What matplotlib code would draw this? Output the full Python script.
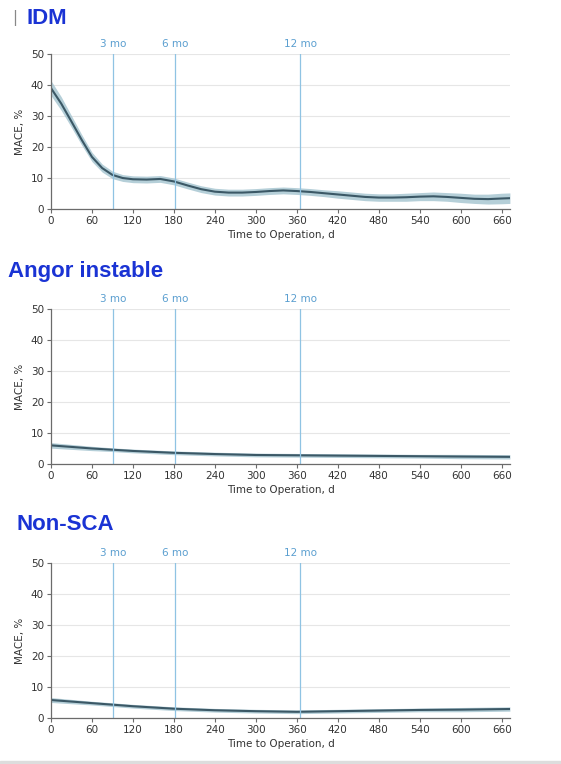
import numpy as np
import matplotlib

matplotlib.use("Agg")
import matplotlib.pyplot as plt
from matplotlib.patches import Rectangle

# ---- data (days, MACE %) ----
days_idm = [0, 15, 30, 45, 60, 75, 90, 105, 120, 140, 160, 180, 200, 220, 240,
            260, 280, 300, 320, 340, 360, 380, 400, 420, 440, 460, 480, 500,
            520, 540, 560, 580, 600, 620, 640, 660, 672]
mace_idm = [39.0, 34.0, 28.2, 22.3, 16.8, 13.2, 11.0, 10.0, 9.6, 9.5, 9.7, 8.9,
            7.6, 6.4, 5.6, 5.3, 5.3, 5.5, 5.8, 6.0, 5.8, 5.5, 5.1, 4.7, 4.3,
            3.9, 3.7, 3.7, 3.8, 4.0, 4.1, 3.9, 3.6, 3.3, 3.2, 3.4, 3.5]
band_idm = [2.4, 2.2, 1.9, 1.7, 1.5, 1.3, 1.2, 1.1, 1.1, 1.1, 1.1, 1.1, 1.1,
            1.1, 1.1, 1.1, 1.1, 1.1, 1.1, 1.1, 1.1, 1.1, 1.1, 1.2, 1.2, 1.2,
            1.2, 1.2, 1.3, 1.3, 1.4, 1.4, 1.5, 1.5, 1.6, 1.7, 1.7]

days_flat = [0, 30, 60, 90, 120, 150, 180, 240, 300, 360, 420, 480, 540, 600, 672]
mace_angor = [6.0, 5.5, 5.0, 4.6, 4.2, 3.9, 3.6, 3.2, 2.9, 2.8, 2.7, 2.6, 2.5, 2.4, 2.3]
band_angor = [0.9, 0.8, 0.7, 0.6, 0.6, 0.6, 0.6, 0.6, 0.6, 0.6, 0.6, 0.6, 0.6, 0.7, 0.7]
mace_nonsca = [5.8, 5.3, 4.8, 4.3, 3.8, 3.4, 3.0, 2.5, 2.2, 2.0, 2.2, 2.4, 2.6, 2.7, 2.9]
band_nonsca = [0.8, 0.7, 0.6, 0.6, 0.6, 0.6, 0.6, 0.6, 0.6, 0.6, 0.6, 0.6, 0.6, 0.7, 0.7]

titles = ["IDM", "Angor instable", "Non-SCA"]
marker_days = [91, 182, 365]
marker_labels = ["3 mo", "6 mo", "12 mo"]
x_ticks = list(range(0, 661, 60))
y_ticks = [0, 10, 20, 30, 40, 50]

FONT = ["Liberation Sans Narrow", "DejaVu Sans"]
TITLE_BLUE = "#1a33d4"
LINE = "#3b5866"
BAND = "#a3c3cf"
MARK = "#8fc3e3"
MARK_TXT = "#5b9fd0"
AX_GRAY = "#6b6b6b"

panels = [
    (days_idm, mace_idm, band_idm),
    (days_flat, mace_angor, band_angor),
    (days_flat, mace_nonsca, band_nonsca),
]
# axes rectangles [left, bottom, width, height] in figure fraction
rects = [
    [0.0909, 0.7264, 0.818, 0.2029],
    [0.0909, 0.3927, 0.818, 0.2029],
    [0.0909, 0.0602, 0.818, 0.2029],
]
title_pos = [(0.048, 0.976), (0.014, 0.645), (0.030, 0.314)]

fig = plt.figure(figsize=(5.61, 7.64), dpi=100)

for i, ((d, m, b), rect) in enumerate(zip(panels, rects)):
    ax = fig.add_axes(rect)
    d = np.array(d)
    m = np.array(m)
    b = np.array(b)
    ax.fill_between(d, m - b, m + b, color=BAND, alpha=0.8, lw=0)
    ax.plot(d, m, color=LINE, lw=1.5)
    for md, ml in zip(marker_days, marker_labels):
        ax.axvline(md, color=MARK, lw=0.9)
        ax.text(md, 51.5, ml, color=MARK_TXT, ha="center", va="bottom",
                fontsize=7.5, family=FONT)
    ax.set_xlim(0, 672)
    ax.set_ylim(0, 50)
    ax.set_xticks(x_ticks)
    ax.set_yticks(y_ticks)
    ax.grid(axis="y", color="#e6e6e6", lw=0.8)
    ax.set_axisbelow(True)
    for s in ["top", "right"]:
        ax.spines[s].set_visible(False)
    for s in ["left", "bottom"]:
        ax.spines[s].set_color(AX_GRAY)
        ax.spines[s].set_linewidth(0.9)
    ax.tick_params(colors=AX_GRAY, labelcolor="#333333", labelsize=7.5,
                   length=3, width=0.8, pad=2)
    for lab in ax.get_xticklabels() + ax.get_yticklabels():
        lab.set_family(FONT)
    ax.set_ylabel("MACE, %", fontsize=7.5, family=FONT, color="#333333", labelpad=4)
    ax.set_xlabel("Time to Operation, d", fontsize=7.5, family=FONT,
                  color="#333333", labelpad=3)

    tx, ty = title_pos[i]
    fig.text(tx, ty, titles[i], color=TITLE_BLUE, fontsize=16, fontweight="bold",
             family=["Liberation Sans", "DejaVu Sans"], va="center", ha="left")

fig.text(0.022, 0.976, "|", color="#888888", fontsize=11, va="center", ha="left")
fig.patches.append(Rectangle((0, 0), 1, 0.004, transform=fig.transFigure,
                             color="#dddddd", zorder=0))

fig.savefig("out.png", dpi=100)
